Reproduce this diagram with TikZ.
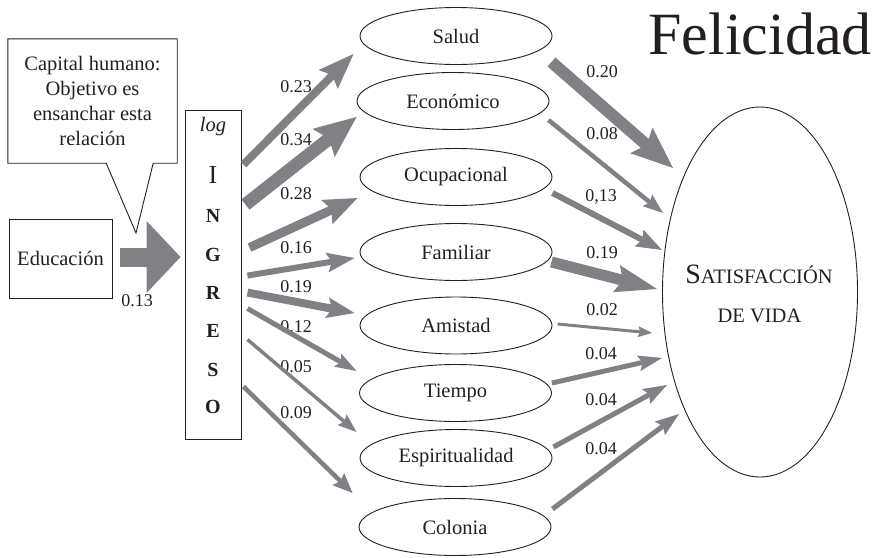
\documentclass[tikz,border=0pt]{standalone}
\usepackage{fontspec}
\setmainfont{Liberation Serif}
\usetikzlibrary{arrows.meta,shapes.geometric,calc}
\definecolor{agray}{RGB}{128,129,133}
\definecolor{ink}{RGB}{35,31,32}
\begin{document}
\begin{tikzpicture}[x=1pt,y=-1pt,
  txt/.style={font=\fontsize{20.5}{25}\selectfont, text=ink},
  lbl/.style={font=\fontsize{18}{20}\selectfont, text=ink, inner sep=0pt},
  ltr/.style={anchor=base, inner sep=0pt, font=\fontsize{20}{20}\selectfont\bfseries, text=ink},
  el/.style={ellipse, draw=ink, line width=0.9pt, minimum width=192pt, minimum height=57pt, inner sep=0pt, txt},
  ar/.style n args={4}{draw=agray, line width=#1pt, -{Stealth[length=#2pt, width=#3pt, inset=#4pt, line width=0pt]}},
  outline/.style={draw=ink, line width=0.9pt}
]
\useasboundingbox (0,0) rectangle (880,557);

% title
\node[anchor=base, inner sep=0pt, text=ink, font=\fontsize{60}{60}\selectfont] (fel) at (760,54) {Felicidad};

% callout
\node[txt, align=center, minimum width=169pt, minimum height=124pt, inner sep=0pt] (cap) at (92.5,101)
  {Capital humano:\\Objetivo es\\ensanchar esta\\relación};
\coordinate (captip) at (136,233);
\draw[outline] (cap.north west) -- (cap.north east) -- (cap.south east)
  -- ([xshift=-24pt]cap.south east) -- (captip) -- ([xshift=-71pt]cap.south east)
  -- (cap.south west) -- cycle;

% Educacion
\node[txt, outline, minimum width=103pt, minimum height=79pt, inner sep=0pt] (edu) at (60.5,258.5) {Educación};

% INGRESO box
\node[outline, minimum width=56pt, minimum height=329pt, inner sep=0pt] (ing) at (213,274.5) {};
\node[anchor=base, inner sep=0pt, txt] (lg) at (213,131) {\itshape log};
\node[anchor=base, inner sep=0pt, text=ink, font=\fontsize{26}{26}\selectfont] (li) at (213,183) {I};
\node[ltr] (ln) at (213,222.5) {N};
\node[ltr] (lgg) at (213,261) {G};
\node[ltr] (lr) at (213,299.3) {R};
\node[ltr] (le) at (213,337.3) {E};
\node[ltr] (ls) at (213,376) {S};
\node[ltr] (lo) at (213,413) {O};

% big arrow
\draw[draw=agray, line width=19pt, -{Triangle[length=34pt, width=72pt, line width=0pt]}]
  ([shift={(8,-1.5)}]edu.east) -- ([shift={(-4,-17.5)}]ing.west);
\node[lbl] (l013) at (137,301) {0.13};

% ellipses
\node[el] (salud) at (456,36) {Salud};
\node[el] (econ) at (453,101) {Económico};
\node[el] (ocup) at (456,177) {Ocupacional};
\node[el] (fam) at (456,252) {Familiar};
\node[el] (amis) at (456,325.5) {Amistad};
\node[el] (tiem) at (455.5,393) {Tiempo};
\node[el] (espi) at (456,458) {Espiritualidad};
\node[el] (colo) at (455,527) {Colonia};

% satisfaccion
\node[ellipse, outline, minimum width=195pt, minimum height=370pt, inner sep=0pt] (sat) at (760,292) {};
\node[anchor=base, inner sep=0pt, text=ink] (s1) at (759,283)
  {\fontsize{28}{28}\selectfont S\fontsize{20.5}{20.5}\selectfont ATISFACCIÓN};
\node[anchor=base, inner sep=0pt, text=ink] (s2) at (759.5,322)
  {\fontsize{20.5}{20.5}\selectfont DE VIDA};

% left labels
\node[lbl] (a1) at (296,87) {0.23};
\node[lbl] (a2) at (296,140) {0.34};
\node[lbl] (a3) at (296,194) {0.28};
\node[lbl] (a4) at (296,248) {0.16};
\node[lbl] (a5) at (296,287) {0.19};
\node[lbl] (a6) at (296,327) {0.12};
\node[lbl] (a7) at (296,367) {0.05};
\node[lbl] (a8) at (296,413) {0.09};

% right labels
\node[lbl] (b1) at (602,72) {0.20};
\node[lbl] (b2) at (602,134) {0.08};
\node[lbl] (b3) at (601,197) {0,13};
\node[lbl] (b4) at (602,253) {0.19};
\node[lbl] (b5) at (602,310) {0.02};
\node[lbl] (b6) at (601,354) {0.04};
\node[lbl] (b7) at (601,400) {0.04};
\node[lbl] (b8) at (601,449) {0.04};

% left arrows
\draw[ar={8}{36}{27}{6}] ([shift={(2,55)}]ing.north east) -- ([shift={(-6,18)}]salud.west);
\draw[ar={13}{42}{36}{7}] ([shift={(4,95)}]ing.north east) -- ([shift={(0,16)}]econ.west);
\draw[ar={9}{34}{27}{6}] ([shift={(8,138)}]ing.north east) -- ([shift={(-2,21)}]ocup.west);
\draw[ar={6}{28}{20}{5}] ([shift={(6,166)}]ing.north east) -- ([shift={(-5,6)}]fam.west);
\draw[ar={8}{28}{21}{5}] ([shift={(6,183)}]ing.north east) -- ([shift={(-5,-12.5)}]amis.west);
\draw[ar={5}{22}{15}{4}] ([shift={(6,199)}]ing.north east) -- ([shift={(-2.5,-22)}]tiem.west);
\draw[ar={3.5}{19}{14}{3}] ([shift={(6,230)}]ing.north east) -- ([shift={(-3,-26)}]espi.west);
\draw[ar={4.5}{20}{17}{3}] ([shift={(2,277)}]ing.north east) -- ([shift={(-6,-34)}]colo.west);

% right arrows
\draw[ar={12}{42}{34}{7}] ([shift={(-1,26)}]salud.east) -- ([shift={(-87,-124)}]sat.center);
\draw[ar={4.5}{20}{15}{3}] ([shift={(-1,19)}]econ.east) -- ([shift={(-97,-79)}]sat.center);
\draw[ar={6}{26}{19}{4}] ([shift={(0,16)}]ocup.east) -- ([shift={(-98,-42)}]sat.center);
\draw[ar={11}{42}{28}{7}] ([shift={(-1,10)}]fam.east) -- ([shift={(-103,-3)}]sat.center);
\draw[ar={3}{14}{11}{2}] ([shift={(5,-1.5)}]amis.east) -- ([shift={(-108,41)}]sat.center);
\draw[ar={5}{24}{16}{4}] ([shift={(0,-10)}]tiem.east) -- ([shift={(-98,66)}]sat.center);
\draw[ar={5}{24}{17}{4}] ([shift={(1,-11)}]espi.east) -- ([shift={(-93,93)}]sat.center);
\draw[ar={5}{24}{17}{4}] ([shift={(1,-18)}]colo.east) -- ([shift={(-81,122)}]sat.center);
\end{tikzpicture}
\end{document}
